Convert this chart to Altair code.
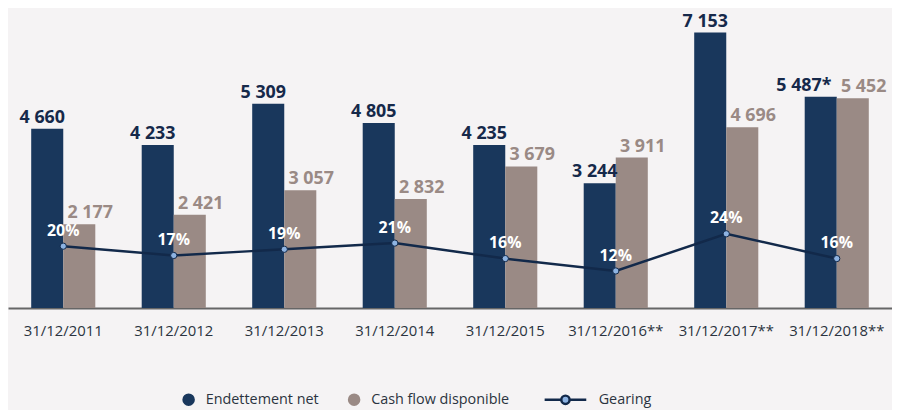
import altair as alt
import pandas as pd

dates = ["31/12/2011", "31/12/2012", "31/12/2013", "31/12/2014", "31/12/2015",
         "31/12/2016**", "31/12/2017**", "31/12/2018**"]
endettement = [4660, 4233, 5309, 4805, 4235, 3244, 7153, 5487]
endettement_suffix = ["", "", "", "", "", "", "", "*"]
cash_flow = [2177, 2421, 3057, 2832, 3679, 3911, 4696, 5452]
gearing = [20, 17, 19, 21, 16, 12, 24, 16]

series_names = ["Endettement net", "Cash flow disponible"]
NAVY = "#19375c"
GREY = "#9a8a85"
LINE = "#12294a"
DOT = "#8db3e2"
BG = "#f5f3f4"
FONT = "Open Sans"
TXT = "#2b3340"


def fmt(v):
    return f"{v:,}".replace(",", " ")


rows = []
for d, e, s, c in zip(dates, endettement, endettement_suffix, cash_flow):
    rows.append({"date": d, "serie": series_names[0], "value": e, "label": fmt(e) + s,
                 "note": s != ""})
    rows.append({"date": d, "serie": series_names[1], "value": c, "label": fmt(c),
                 "note": False})
df_bars = pd.DataFrame(rows)
df_gear = pd.DataFrame({"date": dates, "gearing": [g / 100 for g in gearing],
                        "label": [f"{g}%" for g in gearing], "name": "Gearing"})

x_enc = alt.X("date:N", sort=dates,
              scale=alt.Scale(paddingInner=0.42, paddingOuter=0.21),
              axis=alt.Axis(title=None, labelAngle=0, ticks=False, domainColor="#666666",
                            domainWidth=2, labelFontSize=15, labelColor=TXT,
                            labelFont=FONT, labelPadding=16))
x_plain = alt.X("date:N", sort=dates)
xoff = alt.XOffset("serie:N", sort=series_names)
y_bar = alt.Y("value:Q", scale=alt.Scale(domain=[0, 7668], nice=False), axis=None)

base = alt.Chart(df_bars)
bars = base.mark_bar().encode(
    x=x_enc, xOffset=xoff, y=y_bar,
    fill=alt.Fill("serie:N", sort=series_names,
                  scale=alt.Scale(domain=series_names, range=[NAVY, GREY]),
                  legend=alt.Legend(title=None, orient="none", direction="horizontal",
                                    legendX=175, legendY=383, symbolType="circle",
                                    symbolSize=160, symbolStrokeWidth=0,
                                    labelFontSize=14.5, labelFont=FONT, labelColor=TXT,
                                    labelOffset=10, columnPadding=28, padding=0)),
)
label_style = dict(baseline="bottom", dy=-2, fontSize=18, fontWeight="bold", font=FONT)
lab_navy = base.transform_filter(
    (alt.datum.serie == series_names[0]) & (alt.datum.note == False)
).mark_text(dx=-5, color="#16294a", **label_style).encode(
    x=x_plain, xOffset=xoff, y=y_bar, text="label:N")
lab_navy_note = base.transform_filter(
    (alt.datum.serie == series_names[0]) & (alt.datum.note == True)
).mark_text(dx=-17, color="#16294a", **label_style).encode(
    x=x_plain, xOffset=xoff, y=y_bar, text="label:N")
lab_grey = base.transform_filter(alt.datum.serie == series_names[1]).mark_text(
    dx=11, color=GREY, **label_style
).encode(x=x_plain, xOffset=xoff, y=y_bar, text="label:N")

bar_layer = alt.layer(bars, lab_navy, lab_navy_note, lab_grey)

y_g = alt.Y("gearing:Q", scale=alt.Scale(domain=[0, 0.954], nice=False), axis=None)
gbase = alt.Chart(df_gear)
line = gbase.mark_line(strokeWidth=2.5).encode(
    x=x_plain, y=y_g,
    stroke=alt.Stroke("name:N", scale=alt.Scale(domain=["Gearing"], range=[LINE]),
                      legend=alt.Legend(title=None, orient="none", legendX=540, legendY=368,
                                        symbolType="M-1,0L-0.2,0M0.2,0L1,0M-0.2,0A0.2,0.2 0 1,0 0.2,0A0.2,0.2 0 1,0 -0.2,0",
                                        symbolSize=1764, symbolStrokeWidth=2.5,
                                        symbolFillColor=DOT, symbolStrokeColor=LINE,
                                        labelFontSize=14.5, labelFont=FONT, labelColor=TXT,
                                        labelOffset=11, padding=0)),
)
pts = gbase.mark_point(filled=True, size=40, fill=DOT, stroke=LINE, strokeWidth=1, opacity=1).encode(
    x=x_plain, y=y_g)
glab = gbase.mark_text(baseline="bottom", dy=-7.5, fontSize=16, fontWeight="bold",
                       font=FONT, color="white").encode(
    x=x_plain, y=y_g, text="label:N")
gear_layer = alt.layer(line, pts, glab)

chart = alt.layer(bar_layer, gear_layer).resolve_scale(y="independent").properties(
    width=892, height=298, background=BG,
    padding={"left": 0, "top": 3, "right": 0, "bottom": 0}
).configure_view(stroke=None)

chart.save("out.html", embed_options={"renderer": "svg", "actions": False})
